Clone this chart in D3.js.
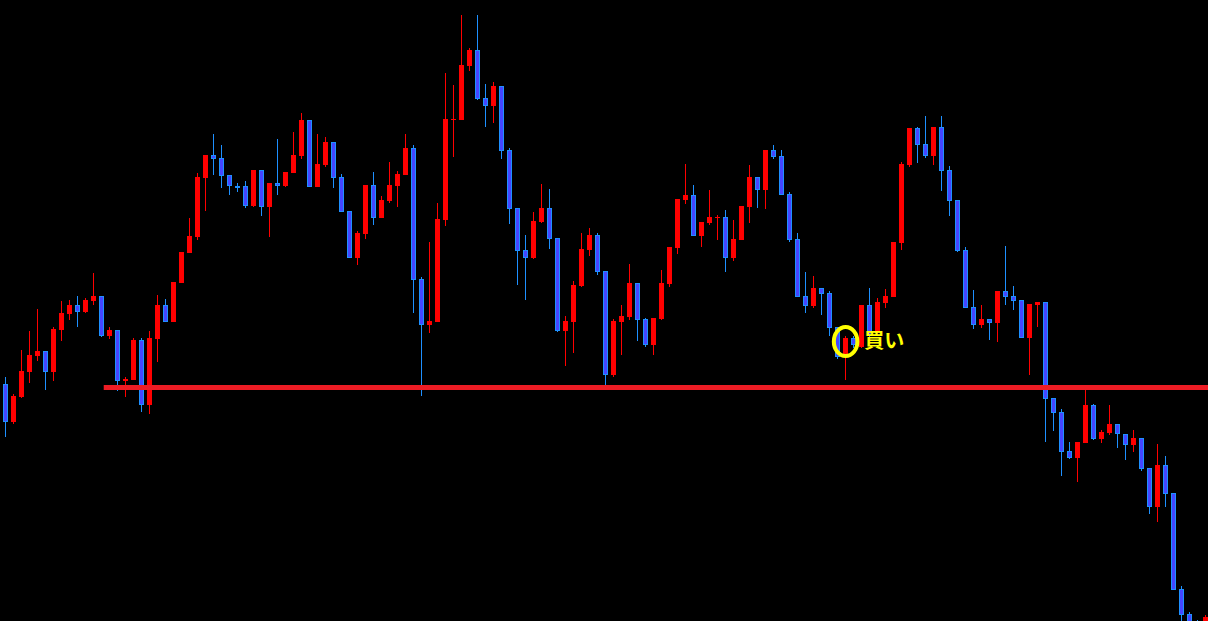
<!DOCTYPE html>
<html>
<head>
<meta charset="utf-8">
<script src="https://cdn.jsdelivr.net/npm/d3@7"></script>
<style>
  html, body { margin: 0; padding: 0; background: #000; overflow: hidden; }
  svg { display: block; }
</style>
</head>
<body>
<div id="chart"></div>
<script>
// Candle data (price units)
const opens = [616,578,603,628,644,649,628,670,686,695,688,699,704,664,670,619,620,660,595,661,
  695,678,717,747,763,822,845,842,825,814,814,794,830,793,817,814,827,844,880,813,
  835,858,823,789,742,766,815,782,799,814,825,852,721,675,678,780,880.5,880,934,950,
  902,894,914,850,792,750,742,778,792,762,669,678,714,750,765,729,625,678,683,717,
  681,655,681,716,752,800,805,764,777,782.5,783,742,760,793,823,810,850,844,806,761,
  704,694,712,707,673,646,662,653,695,667,697,703,757,835,872,856,844,873,830,800,
  750,693,675,681,677,709,704,700,662,695,698,602,588,549,542,557,595,561,567,576,
  566,555,562,532,493,535,507,411,386,360,365];
const highs = [623,606,650,669,691,649,673,699,700,704,702,727,704,673,670,623,662,662,669,705,
  701,718,748,782,827,845,866,855,825,817,819,830,830,817,861,828,868,887,880,866,
  863,858,826,789,769,815,828,804,838,829,866,855,723,758,797,927,915,985,952,985,
  916,918,914,852,792,765,788,816,811,762,684,719,767,772,767,729,681,695,736,717,
  682,682,730,753,801,836,815,778,810,785,790,780,794,835,823,850,855,850,808,767,
  728,724,712,709,673,664,664,695,712,702,711,758,838,872,873,884,873,884,834,800,
  753,710,695,681,709,754,714,700,696,698,698,602,591,558,558,611,596,570,595,576,
  566,570,562,532,556,544,507,414,388,380,385];
const lows = [563,576,602,617,639,610,619,659,680,673,687,695,663,661,609,603,620,588,586,638,
  678,678,717,747,760,789,825,812,805,808,792,793,784,763,805,813,827,841,813,813,
  833,812,788,742,735,761,775,782,797,793,825,687,604,667,678,774,843,880,929,900,
  873,877,841,776,715,700,741,777,751,668,634,647,713,744,725,615,623,645,680,659,
  653,645,680,713,746,796,764,753,775,760,728,739,760,777,792,791,841,805,758,703,
  687,692,685,664,641,620,652,652,662,665,692,703,750,833,837,842,835,809,784,748,
  692,671,672,660,658,695,690,662,625,673,558,569,524,541,518,557,560,557,565,552,
  540,548,529,486,478,493,410,375,350,340,360];
const closes = [578,604,629,645,649,628,671,687,695,688,700,704,664,670,619,621,660,595,662,695,
  678,718,748,764,823,845,841,824,814,813,794,830,793,817,814,828,845,880,813,836,
  858,822,788,742,767,815,782,800,815,826,852,720,675,679,781,881,881,935,950,901,
  894,914,849,791,749,742,779,792,761,669,679,715,751,765,728,625,679,684,717,680,
  655,682,717,753,801,805,764,778,783,783,742,761,794,823,810,850,843,805,760,703,
  694,712,706,672,643,662,655,695,664,698,704,758,836,872,855,844,873,829,799,749,
  692,675,681,677,709,703,699,662,696,698,601,587,548,542,558,595,561,568,576,566,
  555,562,531,493,535,506,410,385,360,350,383];

// support line level and where it starts (candle index)
const supportLevel = 612.5;
const supportStart = 12.3;
// buy signal
const signalIndex = 105;
const signalPrice = 658.5;
const signalLabel = '買い';

const width = 1208, height = 621;

const candles = opens.map((o, i) => ({ i, o, h: highs[i], l: lows[i], c: closes[i] }));

const svg = d3.select('#chart').append('svg')
  .attr('width', width)
  .attr('height', height)
  .style('background', '#000');

const x = d3.scaleLinear().domain([0, 150]).range([5.33, 1205.33]);
const y = d3.scaleLinear().domain([379, 1000]).range([height, 0]);

const upColor = '#ff0000';
const downFill = '#4545ff';
const downStroke = '#1e90ff';

const g = svg.append('g');

const candle = g.selectAll('.candle')
  .data(candles)
  .enter()
  .append('g')
  .attr('class', 'candle');

// wicks
candle.append('line')
  .attr('x1', d => Math.round(x(d.i)) + 0.5)
  .attr('x2', d => Math.round(x(d.i)) + 0.5)
  .attr('y1', d => Math.round(y(d.h)))
  .attr('y2', d => Math.round(y(d.l)))
  .attr('stroke', d => d.c >= d.o ? upColor : downStroke)
  .attr('stroke-width', 1);

// bodies
candle.append('rect')
  .attr('x', d => d.c >= d.o ? Math.round(x(d.i)) - 2 : Math.round(x(d.i)) - 1.5)
  .attr('y', d => {
    const top = Math.round(y(Math.max(d.o, d.c)));
    return d.c >= d.o ? top : top + 0.5;
  })
  .attr('width', d => d.c >= d.o ? 5 : 4)
  .attr('height', d => {
    const h = Math.round(y(Math.min(d.o, d.c))) - Math.round(y(Math.max(d.o, d.c)));
    return d.c >= d.o ? Math.max(1, h) : Math.max(1, h - 1);
  })
  .attr('fill', d => d.c >= d.o ? upColor : downFill)
  .attr('stroke', d => d.c >= d.o ? 'none' : downStroke)
  .attr('stroke-width', 1);

// support line
svg.append('line')
  .attr('x1', x(supportStart))
  .attr('x2', width)
  .attr('y1', y(supportLevel))
  .attr('y2', y(supportLevel))
  .attr('stroke', '#ed1c24')
  .attr('stroke-width', 5);

// buy marker
svg.append('ellipse')
  .attr('cx', x(signalIndex) + 0.3)
  .attr('cy', y(signalPrice))
  .attr('rx', 11.8)
  .attr('ry', 14.5)
  .attr('fill', 'none')
  .attr('stroke', '#ffff00')
  .attr('stroke-width', 4);

svg.append('text')
  .attr('x', x(signalIndex) + 19)
  .attr('y', y(signalPrice) + 6.5)
  .attr('fill', '#ffff00')
  .attr('font-family', '"Noto Sans CJK JP", sans-serif')
  .attr('font-weight', 'bold')
  .attr('font-size', 20)
  .text(signalLabel);
</script>
</body>
</html>
